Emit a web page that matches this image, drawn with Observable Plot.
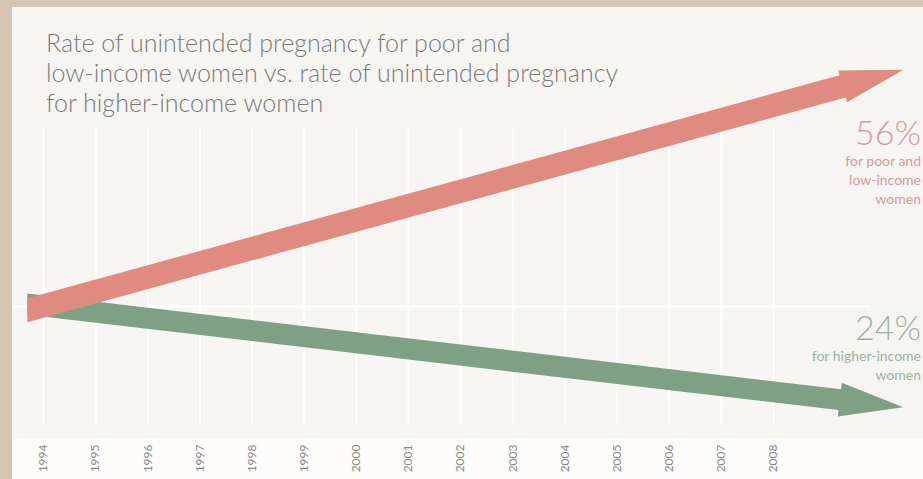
<!DOCTYPE html>
<html>
<head>
<meta charset="utf-8">
<script src="https://cdn.jsdelivr.net/npm/d3@7"></script>
<script src="https://cdn.jsdelivr.net/npm/@observablehq/plot@0.6"></script>
<style>
  html, body { margin: 0; padding: 0; width: 923px; height: 479px; overflow: hidden; background: #d4c6b2; }
  #wrap { position: absolute; left: 12px; top: 7px; width: 911px; height: 472px; overflow: hidden;
          background: linear-gradient(#f7f5f2 0, #f7f5f2 432px, #fdfcfb 432px); font-family: Lato, "Open Sans", sans-serif; }
  #chart { position: absolute; left: 0; top: 0; }
  #title { position: absolute; left: 34px; top: 20px; font-size: 25px; font-weight: 300; color: #7b7b7b; line-height: 30px; }
  .note { position: absolute; right: 2px; text-align: right; }
  .big { font-size: 34px; font-weight: 300; line-height: 34px; margin-bottom: 2px; }
  .small { font-size: 14px; line-height: 19px; }
</style>
</head>
<body>
<div id="wrap">
  <div id="chart"></div>
  <div id="title"></div>
</div>
<script>
// ---- data ----
const titleLines = [
  "Rate of unintended pregnancy for poor and",
  "low-income women vs. rate of unintended pregnancy",
  "for higher-income women"
];
const years = [1994, 1995, 1996, 1997, 1998, 1999, 2000, 2001, 2002, 2003, 2004, 2005, 2006, 2007, 2008];
const endYears = [1994, 2008];
const poorChange = [0, 56];     // % change in rate, poor & low-income women
const higherChange = [0, -24];  // % change in rate, higher-income women
const seriesNames = ["poor", "higher"];
const seriesLabels = [["for poor and", "low-income", "women"], ["for higher-income", "women"]];
const seriesValues = [poorChange, higherChange];
const arrowColors = ["#e08b81", "#7fa085"];
const labelColors = ["#d49d98", "#9db3a2"];

// ---- title ----
document.getElementById("title").innerHTML = titleLines.join("<br>");

// arrows drawn through the plot's own scales
function arrowMark(seriesIdx, halfWidth, headLen, headHalf, startYear, tipYear) {
  return (index, scales) => {
    const {x, y} = scales;
    const vals = seriesValues[seriesIdx];
    const x0 = x(endYears[0]), y0 = y(vals[0]);
    const x1 = x(endYears[1]), y1 = y(vals[1]);
    const span = endYears[1] - endYears[0];
    const at = (yr) => [x0 + (x1 - x0) * (yr - endYears[0]) / span, y0 + (y1 - y0) * (yr - endYears[0]) / span];
    const s = at(startYear), t = at(tipYear);
    const dx = t[0] - s[0], dy = t[1] - s[1], L = Math.hypot(dx, dy);
    const ux = dx / L, uy = dy / L, nx = -uy, ny = ux;
    const b = [t[0] - ux * headLen, t[1] - uy * headLen];
    const vOff = halfWidth / ux;
    const pts = [
      [s[0], s[1] - vOff],
      [b[0] - nx * halfWidth, b[1] - ny * halfWidth],
      [b[0] - nx * headHalf, b[1] - ny * headHalf],
      t,
      [b[0] + nx * headHalf, b[1] + ny * headHalf],
      [b[0] + nx * halfWidth, b[1] + ny * halfWidth],
      [s[0], s[1] + vOff]
    ];
    const g = d3.create("svg:g");
    g.append("polygon").attr("points", pts.map(p => p.join(",")).join(" ")).attr("fill", arrowColors[seriesIdx]);
    return g.node();
  };
}

const plot = Plot.plot({
  width: 911,
  height: 472,
  marginLeft: 31,
  marginRight: 150,
  marginTop: 120,
  marginBottom: 55,
  style: { background: "transparent", overflow: "visible" },
  x: { domain: [1994, 2008], axis: null },
  y: { domain: [-33, 50], axis: null },
  marks: [
    Plot.ruleX(years, { x: d => d, stroke: "#ffffff", strokeWidth: 2 }),
    Plot.ruleY([0], { stroke: "#ffffff", strokeWidth: 3, insetLeft: -31, insetRight: -97 }),
    Plot.axisX(years, {
      anchor: "bottom", tickSize: 0, tickPadding: 20, tickRotate: -90,
      tickFormat: d => String(d), fontSize: 12, fill: "#8a8a8a", label: null,
      fontFamily: "Lato, sans-serif"
    }),
    arrowMark(1, 10.5, 64, 17, 1993.7, 2010.5),
    arrowMark(0, 11.5, 63, 16.5, 1993.7, 2010.5)
  ]
});
document.getElementById("chart").appendChild(plot);

// annotations for the end values
const noteTops = [108, 303];
seriesNames.forEach((name, i) => {
  const v = seriesValues[i][1];
  const div = document.createElement("div");
  div.className = "note";
  div.style.top = noteTops[i] + "px";
  div.style.color = labelColors[i];
  div.innerHTML = `<div class="big">${Math.abs(v)}%</div>` +
    seriesLabels[i].map(l => `<div class="small">${l}</div>`).join("");
  document.getElementById("wrap").appendChild(div);
});
</script>
</body>
</html>
